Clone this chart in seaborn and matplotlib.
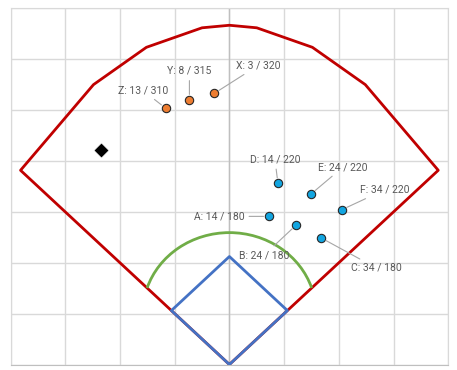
import numpy as np
import matplotlib
matplotlib.use("Agg")
import matplotlib.pyplot as plt
from matplotlib.patches import Arc
import pandas as pd
import seaborn as sns

# outfield fence (feet, home plate at origin), left pole to right pole
fence_x = [-229, -149, -91, -30, 0, 30, 91, 149, 229]
fence_y = [229, 330, 374, 397, 400, 397, 374, 330, 229]

# base paths: home, first, second, third, home
base_x = [0, 63.6, 0, -63.6, 0]
base_y = [0, 63.6, 127.3, 63.6, 0]

# infield grass arc around the mound
mound_y = 60.5
grass_radius = 95

# hits: label, angle from centre (deg), distance (ft)
left_names = ["X", "Y", "Z"]
left_angle = [3, 8, 13]
left_dist = [320, 315, 310]

right_names = ["A", "B", "C", "D", "E", "F"]
right_angle = [14, 24, 34, 14, 24, 34]
right_dist = [180, 180, 180, 220, 220, 220]

# black marker
mark_x = [-141]
mark_y = [253]

# label offsets in pixels (text centre relative to point)
left_offsets = [(44, 28), (0, 29), (-23, 18)]
right_offsets = [(-50, 0), (-32, -30), (55, -30), (-3, 24), (32, 27), (43, 20)]

sns.set_style("white")
plt.rcParams['font.family'] = ['Roboto', 'DejaVu Sans']

fig = plt.figure(figsize=(4.57, 3.70), dpi=100)
ax = fig.add_axes([10.5 / 457, (370 - 364.5) / 370, 437.8 / 457, 356.2 / 370])

# grid
for gx in range(-240, 241, 60):
    ax.axvline(gx, color="#d9d9d9", lw=1, zorder=0)
for gy in range(0, 421, 60):
    ax.axhline(gy, color="#d9d9d9", lw=1, zorder=0)
ax.axvline(0, color="#bfbfbf", lw=1, zorder=0)

# fence + foul lines
field = pd.DataFrame({"x": [0] + fence_x + [0], "y": [0] + fence_y + [0]})
sns.lineplot(data=field, x="x", y="y", sort=False, estimator=None, color="#c00000", lw=2, ax=ax)

# grass arc, ends where it meets the foul lines (y = |x|)
a = 2
b = -2 * mound_y
c = mound_y ** 2 - grass_radius ** 2
xi = (-b + np.sqrt(b * b - 4 * a * c)) / (2 * a)
th = np.degrees(np.arctan2(xi - mound_y, xi))
ax.add_patch(Arc((0, mound_y), 2 * grass_radius, 2 * grass_radius, theta1=th, theta2=180 - th,
                 color="#70ad47", lw=2, zorder=3))

# infield
bases = pd.DataFrame({"x": base_x, "y": base_y})
sns.lineplot(data=bases, x="x", y="y", sort=False, estimator=None, color="#4472c4", lw=2, ax=ax, zorder=4)

# hits (left group plotted towards left field)
lx = [-d * np.sin(np.radians(a_)) for a_, d in zip(left_angle, left_dist)]
ly = [d * np.cos(np.radians(a_)) for a_, d in zip(left_angle, left_dist)]
rx = [d * np.sin(np.radians(a_)) for a_, d in zip(right_angle, right_dist)]
ry = [d * np.cos(np.radians(a_)) for a_, d in zip(right_angle, right_dist)]

sns.scatterplot(x=lx, y=ly, color="#ed7d31", edgecolor="#262626", linewidth=0.8, s=36, ax=ax, zorder=5)
sns.scatterplot(x=rx, y=ry, color="#12a5e0", edgecolor="#262626", linewidth=0.8, s=36, ax=ax, zorder=5)
sns.scatterplot(x=mark_x, y=mark_y, color="black", marker="D", s=60, ax=ax, zorder=5)

def label(names, angles, dists, xs, ys, offs):
    for n, a_, d, x, y, (ox, oy) in zip(names, angles, dists, xs, ys, offs):
        ax.annotate(f"{n}: {a_} / {d}", xy=(x, y), xytext=(ox, oy), textcoords="offset pixels",
                    ha="center", va="center", fontsize=7.5, color="#595959", zorder=6,
                    arrowprops=dict(arrowstyle="-", color="#a6a6a6", lw=0.8, shrinkA=1, shrinkB=4))

label(left_names, left_angle, left_dist, lx, ly, left_offsets)
label(right_names, right_angle, right_dist, rx, ry, right_offsets)

ax.set_xlim(-240, 240)
ax.set_ylim(0, 420)
ax.set_xticks([])
ax.set_yticks([])
ax.set_xlabel("")
ax.set_ylabel("")
for s in ["top", "left", "right"]:
    ax.spines[s].set_color("#d9d9d9")
ax.spines["bottom"].set_color("#bfbfbf")

fig.savefig("out.png", dpi=100, facecolor="white")
